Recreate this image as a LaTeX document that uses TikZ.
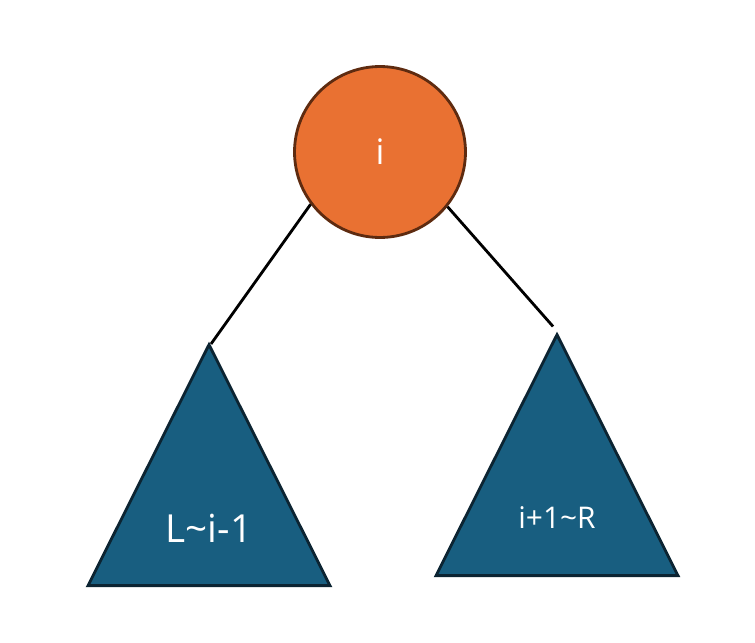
\documentclass[tikz,border=0pt]{standalone}
\usepackage{fontspec}
\setmainfont{Open Sans}
\usepackage{tikz}
\usetikzlibrary{shapes.geometric,calc}
\definecolor{rootorange}{RGB}{233,113,50}
\definecolor{rootborder}{RGB}{94,43,16}
\definecolor{subblue}{RGB}{24,94,128}
\definecolor{subborder}{RGB}{12,36,50}

\begin{document}
\begin{tikzpicture}[
  x=0.02cm,y=-0.02cm,
  rootnode/.style={circle,draw=rootborder,fill=rootorange,line width=1.6pt,minimum size=3.42cm,inner sep=0pt,text=white,font=\fontsize{20}{24}\selectfont},
  subtree/.style={isosceles triangle,isosceles triangle stretches,shape border rotate=90,draw=subborder,fill=subblue,line width=1.6pt,minimum width=4.84cm,minimum height=4.82cm,inner sep=0pt},
  treetext/.style={text=white,inner sep=0pt},
  edge/.style={line width=1.6pt,draw=black}
]
  \useasboundingbox (0,0) rectangle (755,643);
  \node[rootnode] (root) at (380,152) {i};
  \node[subtree,anchor=lower side] (lefttree) at (209,587) {};
  \node[subtree,anchor=lower side] (righttree) at (557,577) {};
  \node[treetext,font=\fontsize{22}{26}\selectfont] (lefttext) at ($(lefttree.lower side)+(0,-59)$) {L\char`\~i-1};
  \node[treetext,font=\fontsize{17}{20}\selectfont] (righttext) at ($(righttree.lower side)+(0,-59)$) {i+1\char`\~R};

  \draw[edge] (root.217.6) -- ([shift={(2,3)}]lefttree.apex);
  \draw[edge,shorten >=0.12cm] (root.-39.6) -- (righttree.apex);
\end{tikzpicture}
\end{document}
